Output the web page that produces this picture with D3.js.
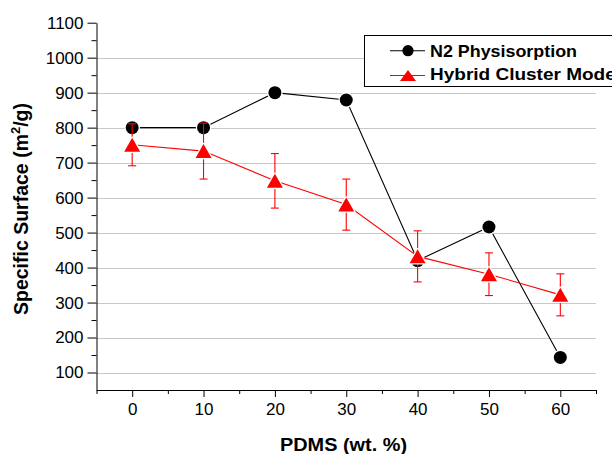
<!DOCTYPE html>
<html><head><meta charset="utf-8">
<script src="https://cdn.jsdelivr.net/npm/d3@7"></script>
<style>body{margin:0;background:#fff}svg{display:block}text{font-family:"Liberation Sans",Arial,sans-serif}</style>
</head><body><svg id="c" width="612" height="454"></svg>
<script>
const pdms = [0, 10, 20, 30, 40, 50, 60];
const n2Physisorption = [800, 800, 900, 879, 420, 516, 143];
const hybridCluster = [751, 733, 648, 580, 432, 381, 322];
const hybridError = [60, 80, 78, 73, 73, 61, 60];
const xTicks = [0, 10, 20, 30, 40, 50, 60];
const yTicks = [100, 200, 300, 400, 500, 600, 700, 800, 900, 1000, 1100];
const seriesNames = ["N2 Physisorption", "Hybrid Cluster Model"];

const svg = d3.select("#c");
const x = d3.scaleLinear().domain([-5, 65]).range([96.5, 596]);
const y = d3.scaleLinear().domain([50, 1100]).range([390, 22.7]);

// grid
svg.append("g").selectAll("line").data(yTicks.filter(v => v < 1100)).join("line")
  .attr("x1", x(-5)).attr("x2", x(65)).attr("y1", d => Math.round(y(d)) + 0.5).attr("y2", d => Math.round(y(d)) + 0.5)
  .attr("stroke", "#c8c8c8").attr("stroke-width", 1);

// axes
svg.append("g").attr("transform", `translate(0,${y(50)})`)
  .call(d3.axisBottom(x).tickValues(xTicks).tickFormat(d3.format("d")).tickSize(7).tickPadding(6).tickSizeOuter(0));
svg.append("g").attr("transform", `translate(0,${y(50)})`)
  .call(d3.axisBottom(x).tickValues(d3.range(-5, 66, 10)).tickSize(4).tickFormat("").tickSizeOuter(0))
  .select(".domain").remove();
svg.append("g").attr("transform", `translate(${x(-5)},0)`)
  .call(d3.axisLeft(y).tickValues(yTicks).tickFormat(d3.format("d")).tickSize(9).tickPadding(4).tickSizeOuter(0));
svg.append("g").attr("transform", `translate(${x(-5)},0)`)
  .call(d3.axisLeft(y).tickValues(d3.range(150, 1100, 100)).tickSize(5).tickFormat("").tickSizeOuter(0))
  .select(".domain").remove();
svg.selectAll(".tick text").attr("font-size", 17).attr("fill", "#000").style("font-family", '"Liberation Sans",Arial,sans-serif');
svg.selectAll(".domain, .tick line").attr("stroke", "#000");

// labels
svg.append("text").attr("x", 280).attr("y", 451)
  .attr("font-size", 18).attr("font-weight", "bold")
  .attr("textLength", 127).attr("lengthAdjust", "spacingAndGlyphs").text("PDMS (wt. %)");
const yl = svg.append("text").attr("transform", "translate(28,209) rotate(-90)").attr("text-anchor", "middle")
  .attr("font-size", 19.5).attr("font-weight", "bold");
yl.append("tspan").text("Specific Surface (m");
yl.append("tspan").attr("font-size", 13).attr("dy", -8).text("2");
yl.append("tspan").attr("dy", 8).text("/g)");

const n2 = pdms.map((p, i) => ({x: p, y: n2Physisorption[i]}));
const hy = pdms.map((p, i) => ({x: p, y: hybridCluster[i], e: hybridError[i]}));
const line = d3.line().x(d => x(d.x)).y(d => y(d.y));
const triPath = (w, h) => `M0,${-h/2}L${w/2},${h/2}L${-w/2},${h/2}Z`;

// N2 series
svg.append("path").datum(n2).attr("d", line).attr("fill", "none").attr("stroke", "#000").attr("stroke-width", 1.1);
svg.append("g").selectAll("circle").data(n2).join("circle")
  .attr("cx", d => x(d.x)).attr("cy", d => y(d.y)).attr("r", 6.5)
  .attr("fill", "#000").attr("stroke", "#fff").attr("stroke-width", 2.5).attr("paint-order", "stroke");

// Hybrid series
svg.append("path").datum(hy).attr("d", line).attr("fill", "none").attr("stroke", "#f00").attr("stroke-width", 1.1);
const eb = svg.append("g").attr("stroke", "#f00").attr("stroke-width", 1.1);
hy.forEach(d => {
  const cx = x(d.x), t = y(d.y + d.e), b = y(d.y - d.e);
  eb.append("line").attr("x1", cx).attr("x2", cx).attr("y1", t).attr("y2", b);
  eb.append("line").attr("x1", cx - 4).attr("x2", cx + 4).attr("y1", t).attr("y2", t);
  eb.append("line").attr("x1", cx - 4).attr("x2", cx + 4).attr("y1", b).attr("y2", b);
});
svg.append("g").selectAll("path").data(hy).join("path")
  .attr("transform", d => `translate(${x(d.x)},${y(d.y)})`).attr("d", triPath(16, 14))
  .attr("fill", "#f00").attr("stroke", "#fff").attr("stroke-width", 2.5).attr("paint-order", "stroke").attr("stroke-linejoin", "round");

// legend
const lg = svg.append("g");
lg.append("rect").attr("x", 364.5).attr("y", 35.5).attr("width", 260).attr("height", 51)
  .attr("fill", "#fff").attr("stroke", "#000").attr("stroke-width", 1);
const rows = [
  {name: seriesNames[0], c: "#000", sym: "c", yy: 50.7, base: 57.3, len: 147},
  {name: seriesNames[1], c: "#f00", sym: "t", yy: 75.5, base: 79.7, len: 191}
];
rows.forEach(r => {
  lg.append("line").attr("x1", 390).attr("x2", 425).attr("y1", r.yy).attr("y2", r.yy).attr("stroke", r.c).attr("stroke-width", 1.1);
  if (r.sym === "c") lg.append("circle").attr("cx", 408).attr("cy", r.yy).attr("r", 5.6).attr("fill", r.c);
  else lg.append("path").attr("transform", `translate(408,${r.yy})`).attr("d", triPath(16, 11)).attr("fill", r.c);
  lg.append("text").attr("x", 430).attr("y", r.base).attr("font-size", 16.5).attr("font-weight", "bold")
    .attr("textLength", r.len).attr("lengthAdjust", "spacingAndGlyphs").text(r.name);
});
</script></body></html>
